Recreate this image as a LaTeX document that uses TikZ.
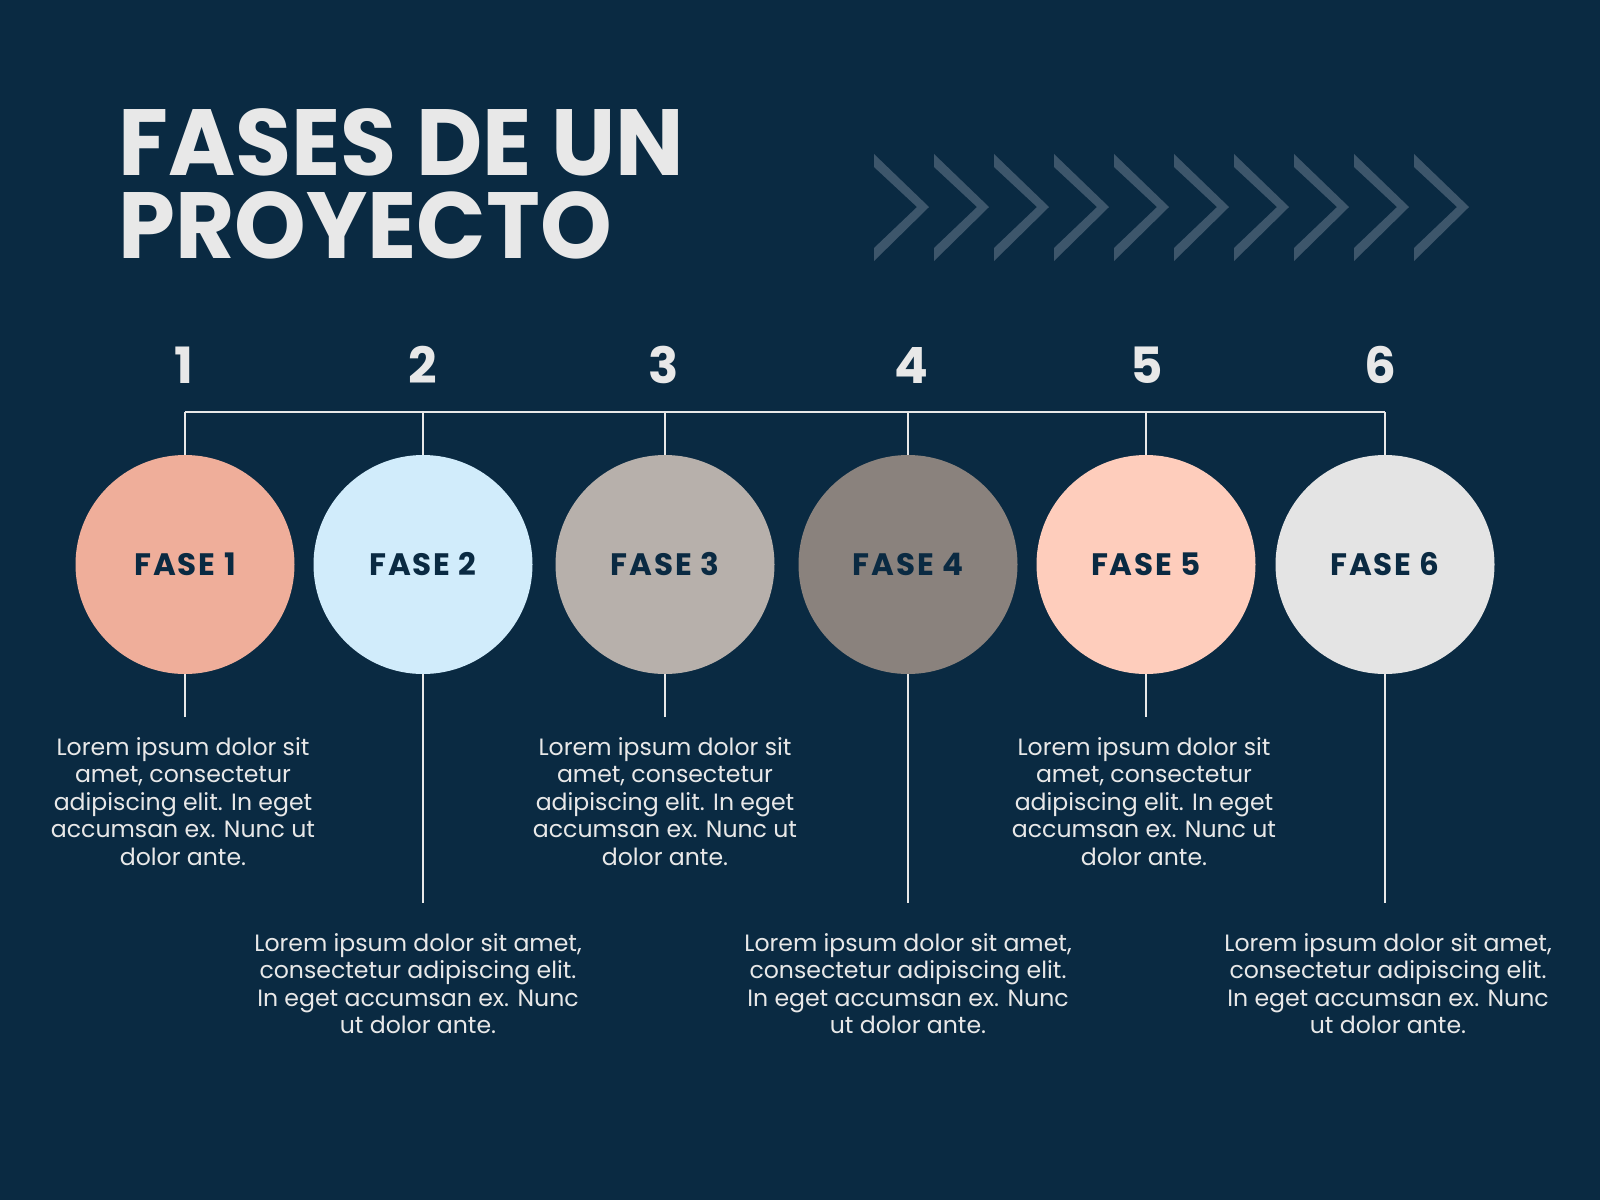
\documentclass[tikz,border=0pt]{standalone}
\usepackage{fontspec}
\setmainfont{Poppins}
\newfontfamily\titlefont{Poppins}[FakeStretch=0.97]
\newfontfamily\fasefont{Poppins}[LetterSpace=6]
\definecolor{navy}{HTML}{0A2A42}
\definecolor{light}{HTML}{E8E8E8}
\definecolor{chev}{HTML}{3D566B}
\definecolor{salmon}{HTML}{EFAE9A}
\definecolor{sky}{HTML}{D1ECFB}
\definecolor{stone}{HTML}{B7B0AB}
\definecolor{taupe}{HTML}{8A827D}
\definecolor{peach}{HTML}{FECDBC}
\definecolor{mist}{HTML}{E4E4E4}

\begin{document}
\begin{tikzpicture}[x=0.5pt,y=-0.5pt]
	\tikzstyle{every node}+=[inner sep=0pt]
	\tikzstyle{fase}=[circle, minimum size=109.5pt, text=navy, font=\fasefont\bfseries\fontsize{15.5}{16}\selectfont]
	\tikzstyle{num}=[anchor=base, text=light, font=\bfseries\fontsize{25}{26}\selectfont]
	\tikzstyle{lorem}=[anchor=north, align=center, text=light, font=\fontsize{11.8}{13.75}\selectfont]
	\tikzstyle{link}=[draw=light, line width=1.2pt]
	\useasboundingbox (0,0) rectangle (1600,1200);
	\fill [navy] (0,0) rectangle (1600,1200);
	\node [anchor=north west, align=left, text=light, font=\titlefont\bfseries\fontsize{47}{41.5}\selectfont] (title) at (118,108) {FASES DE UN\\PROYECTO};
	\fill [chev] (874,154) -- (929,207) -- (874,261) -- (874,248) -- (917,207) -- (874,167) -- cycle;
	\fill [chev] (934,154) -- (989,207) -- (934,261) -- (934,248) -- (977,207) -- (934,167) -- cycle;
	\fill [chev] (994,154) -- (1049,207) -- (994,261) -- (994,248) -- (1037,207) -- (994,167) -- cycle;
	\fill [chev] (1054,154) -- (1109,207) -- (1054,261) -- (1054,248) -- (1097,207) -- (1054,167) -- cycle;
	\fill [chev] (1114,154) -- (1169,207) -- (1114,261) -- (1114,248) -- (1157,207) -- (1114,167) -- cycle;
	\fill [chev] (1174,154) -- (1229,207) -- (1174,261) -- (1174,248) -- (1217,207) -- (1174,167) -- cycle;
	\fill [chev] (1234,154) -- (1289,207) -- (1234,261) -- (1234,248) -- (1277,207) -- (1234,167) -- cycle;
	\fill [chev] (1294,154) -- (1349,207) -- (1294,261) -- (1294,248) -- (1337,207) -- (1294,167) -- cycle;
	\fill [chev] (1354,154) -- (1409,207) -- (1354,261) -- (1354,248) -- (1397,207) -- (1354,167) -- cycle;
	\fill [chev] (1414,154) -- (1469,207) -- (1414,261) -- (1414,248) -- (1457,207) -- (1414,167) -- cycle;
	\node [num] (num1) at (184,383) {1};
	\node [num] (num2) at (423,383) {2};
	\node [num] (num3) at (664,383) {3};
	\node [num] (num4) at (911,383) {4};
	\node [num] (num5) at (1147,383) {5};
	\node [num] (num6) at (1380,383) {6};
	\node [fase, fill=salmon] (fase1) at (185,564.5) {FASE 1};
	\node [fase, fill=sky] (fase2) at (423,564.5) {FASE 2};
	\node [fase, fill=stone] (fase3) at (665,564.5) {FASE 3};
	\node [fase, fill=taupe] (fase4) at (908,564.5) {FASE 4};
	\node [fase, fill=peach] (fase5) at (1146,564.5) {FASE 5};
	\node [fase, fill=mist] (fase6) at (1385,564.5) {FASE 6};
	\coordinate (bar1) at (185,412);
	\coordinate (bar2) at (423,412);
	\coordinate (bar3) at (665,412);
	\coordinate (bar4) at (908,412);
	\coordinate (bar5) at (1146,412);
	\coordinate (bar6) at (1385,412);
	\draw [link, line width=1.4pt] (bar1) -- (bar6);
	\draw [link] (bar1) -- (fase1.north);
	\draw [link] (bar2) -- (fase2.north);
	\draw [link] (bar3) -- (fase3.north);
	\draw [link] (bar4) -- (fase4.north);
	\draw [link] (bar5) -- (fase5.north);
	\draw [link] (bar6) -- (fase6.north);
	\node [lorem] (txt1) at (183,737) {Lorem ipsum dolor sit\\amet, consectetur\\adipiscing elit. In eget\\accumsan ex. Nunc ut\\dolor ante.};
	\node [lorem] (txt3) at (665,737) {Lorem ipsum dolor sit\\amet, consectetur\\adipiscing elit. In eget\\accumsan ex. Nunc ut\\dolor ante.};
	\node [lorem] (txt5) at (1144,737) {Lorem ipsum dolor sit\\amet, consectetur\\adipiscing elit. In eget\\accumsan ex. Nunc ut\\dolor ante.};
	\node [lorem] (txt2) at (418,933) {Lorem ipsum dolor sit amet,\\consectetur adipiscing elit.\\In eget accumsan ex. Nunc\\ut dolor ante.};
	\node [lorem] (txt4) at (908,933) {Lorem ipsum dolor sit amet,\\consectetur adipiscing elit.\\In eget accumsan ex. Nunc\\ut dolor ante.};
	\node [lorem] (txt6) at (1388,933) {Lorem ipsum dolor sit amet,\\consectetur adipiscing elit.\\In eget accumsan ex. Nunc\\ut dolor ante.};
	\coordinate (end1) at (185,717);
	\coordinate (end2) at (423,903);
	\coordinate (end3) at (665,717);
	\coordinate (end4) at (908,903);
	\coordinate (end5) at (1146,717);
	\coordinate (end6) at (1385,903);
	\draw [link] (fase1.south) -- (end1);
	\draw [link] (fase2.south) -- (end2);
	\draw [link] (fase3.south) -- (end3);
	\draw [link] (fase4.south) -- (end4);
	\draw [link] (fase5.south) -- (end5);
	\draw [link] (fase6.south) -- (end6);
\end{tikzpicture}
\end{document}
